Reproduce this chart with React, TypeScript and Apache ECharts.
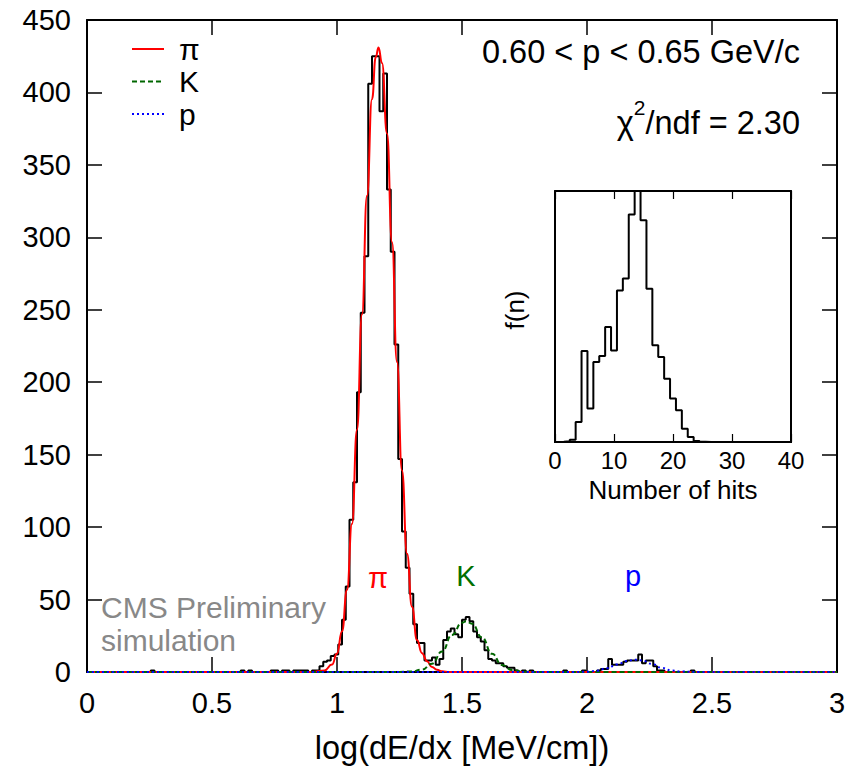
import React, { useEffect, useRef } from 'react';
import * as echarts from 'echarts';

// ---- main histogram: log(dE/dx), 200 bins of width 0.015 from 0 to 3 ----
const BIN_START = 0;
const BIN_WIDTH = 0.015;
const counts000 = [0, 0, 0, 0, 0, 0, 0, 0, 0, 0, 0, 0, 0, 0, 0, 0, 0, 1, 0, 0];
const counts020 = [0, 0, 0, 0, 0, 0, 0, 0, 0, 0, 0, 0, 0, 0, 0, 0, 0, 0, 0, 0];
const counts040 = [0, 1, 0, 1, 0, 0, 0, 0, 0, 1, 1, 0, 1, 1, 0, 1, 1, 1, 1, 0];
const counts060 = [1, 1, 4, 7, 8, 11, 12, 19, 36, 59, 105, 131, 193, 248, 287, 406, 425, 425, 387, 413];
const counts080 = [333, 290, 226, 147, 97, 72, 54, 33, 20, 20, 8, 8, 10, 5, 9, 22, 28, 30, 26, 24];
const counts100 = [36, 38, 35, 28, 24, 21, 15, 9, 8, 6, 6, 4, 3, 3, 1, 0, 1, 0, 1, 0];
const counts120 = [0, 0, 0, 0, 0, 0, 0, 1, 0, 0, 0, 0, 1, 0, 0, 0, 1, 2, 2, 9];
const counts140 = [5, 5, 5, 7, 8, 8, 8, 12, 6, 8, 8, 4, 1, 1, 0, 0, 0, 0, 0, 0];
const counts160 = [0, 1, 0, 0, 0, 0, 0, 0, 0, 0, 0, 0, 0, 0, 0, 0, 0, 0, 0, 0];
const counts180 = [0, 0, 0, 0, 0, 0, 0, 0, 0, 0, 0, 0, 0, 0, 0, 0, 0, 0, 0, 0];
const counts = [
  ...counts000, ...counts020, ...counts040, ...counts060, ...counts080,
  ...counts100, ...counts120, ...counts140, ...counts160, ...counts180,
];

// ---- fitted curves ----
const pionX = [0, 0.85, 0.9, 0.95, 0.98, 1.0, 1.02, 1.04, 1.06, 1.08, 1.1, 1.12, 1.14, 1.155, 1.166, 1.18, 1.2, 1.22, 1.24, 1.26, 1.28, 1.3, 1.32, 1.34, 1.36, 1.38, 1.4, 1.42, 1.45, 3];
const pionY = [0, 0, 0.05, 1.1, 5.1, 12.7, 28.1, 56.6, 102.3, 167.2, 246.8, 328.7, 395.3, 424.4, 431, 420.3, 371.7, 296.8, 213.9, 139.1, 81.7, 45, 22, 13, 7.5, 3.5, 1.5, 0.5, 0, 0];
const kaonX = [0, 1.25, 1.3, 1.34, 1.38, 1.42, 1.46, 1.5, 1.517, 1.54, 1.58, 1.62, 1.66, 1.7, 1.75, 1.8, 3];
const kaonY = [0, 0, 0.4, 1.7, 5.7, 14.1, 25.6, 34.0, 35, 33.3, 23.9, 12.6, 4.9, 1.4, 0.2, 0, 0];
const protonX = [0, 1.95, 2.0, 2.04, 2.08, 2.12, 2.16, 2.19, 2.22, 2.26, 2.3, 2.34, 2.38, 2.45, 3];
const protonY = [0, 0, 0.2, 0.9, 2.6, 5.2, 7.6, 8.5, 8.0, 5.6, 2.8, 1.0, 0.3, 0, 0];

// ---- inset: number of hits, bins centred on integers 0..40 ----
const hitsStart = -0.5;
const hitsWidth = 1;
const hitsValues = [0, 0.1, 0.3, 0.9, 8.0, 36.3, 13.3, 31.9, 34.3, 45.8, 36.5, 60.4, 65.1, 90.6, 110, 88.3, 61.1, 38.5, 33.9, 25.2, 17.3, 12.6, 5.3, 2.0, 0.4, 0.1, 0, 0, 0, 0, 0, 0, 0, 0, 0, 0, 0, 0, 0, 0, 0];

const xTicks = { min: 0, max: 3, interval: 0.5 };
const yTicks = { min: 0, max: 450, interval: 50 };
const insetXTicks = { min: 0, max: 40, interval: 10 };

const FONT = '"Liberation Sans", Arial, Helvetica, sans-serif';

function stepLine(start: number, width: number, values: number[]): number[][] {
  const pts: number[][] = [];
  let prev = 0;
  values.forEach((v, i) => {
    const x = start + i * width;
    pts.push([x, prev], [x, v]);
    prev = v;
  });
  const xEnd = start + values.length * width;
  pts.push([xEnd, prev], [xEnd, 0]);
  return pts;
}

function zip(xs: number[], ys: number[]): number[][] {
  return xs.map((x, i) => [x, ys[i]]);
}

export default function App() {
  const ref = useRef<HTMLDivElement>(null);
  useEffect(() => {
    const chart = echarts.init(ref.current!, null, { renderer: 'svg' });
    const frameLine = { show: true, onZero: false, lineStyle: { color: '#000', width: 2 } };
    const mainTick = { show: true, inside: true, length: 15, lineStyle: { color: '#000', width: 1.5 } };
    const insetTick = { show: true, inside: true, length: 8, lineStyle: { color: '#000', width: 1.2 } };
    chart.setOption({
      animation: false,
      backgroundColor: '#ffffff',
      textStyle: { fontFamily: FONT },
      grid: [
        { left: 87, top: 20, width: 750, height: 652 },
        { left: 555, top: 191, width: 236, height: 251 },
      ],
      legend: {
        data: ['π', 'K', 'p'],
        orient: 'vertical',
        left: 126,
        top: 29,
        itemWidth: 32,
        itemHeight: 12,
        itemGap: 2.5,
        itemStyle: { opacity: 0 },
        textStyle: { fontSize: 30, color: '#000', lineHeight: 30, padding: [0, 0, 0, 10], fontFamily: FONT },
      },
      xAxis: [
        {
          gridIndex: 0, type: 'value', ...xTicks, position: 'bottom',
          axisLine: frameLine, axisTick: mainTick, splitLine: { show: false },
          axisLabel: { color: '#000', fontSize: 29, margin: 16, fontFamily: FONT },
          name: 'log(dE/dx [MeV/cm])', nameLocation: 'middle', nameGap: 59,
          nameTextStyle: { fontSize: 32.5, color: '#000', fontFamily: FONT },
        },
        {
          gridIndex: 0, type: 'value', ...xTicks, position: 'top',
          axisLine: frameLine, axisTick: mainTick, splitLine: { show: false }, axisLabel: { show: false },
        },
        {
          gridIndex: 1, type: 'value', ...insetXTicks, position: 'bottom',
          axisLine: frameLine, axisTick: insetTick, splitLine: { show: false },
          axisLabel: { color: '#000', fontSize: 24, margin: 6, fontFamily: FONT },
          name: 'Number of hits', nameLocation: 'middle', nameGap: 35,
          nameTextStyle: { fontSize: 26, color: '#000', fontFamily: FONT },
        },
        {
          gridIndex: 1, type: 'value', ...insetXTicks, position: 'top',
          axisLine: frameLine, axisTick: insetTick, splitLine: { show: false }, axisLabel: { show: false },
        },
      ],
      yAxis: [
        {
          gridIndex: 0, type: 'value', ...yTicks, position: 'left',
          axisLine: frameLine, axisTick: mainTick, splitLine: { show: false },
          axisLabel: { color: '#000', fontSize: 29, margin: 16, fontFamily: FONT },
        },
        {
          gridIndex: 0, type: 'value', ...yTicks, position: 'right',
          axisLine: frameLine, axisTick: mainTick, splitLine: { show: false }, axisLabel: { show: false },
        },
        {
          gridIndex: 1, type: 'value', min: 0, max: 100, position: 'left',
          axisLine: frameLine, axisTick: { show: false }, splitLine: { show: false }, axisLabel: { show: false },
        },
        {
          gridIndex: 1, type: 'value', min: 0, max: 100, position: 'right',
          axisLine: frameLine, axisTick: { show: false }, splitLine: { show: false }, axisLabel: { show: false },
        },
      ],
      series: [
        {
          name: 'data', type: 'line', xAxisIndex: 0, yAxisIndex: 0,
          data: stepLine(BIN_START, BIN_WIDTH, counts), symbol: 'none',
          lineStyle: { color: '#000', width: 2 }, itemStyle: { color: '#000' }, z: 2,
        },
        {
          name: 'π', type: 'line', xAxisIndex: 0, yAxisIndex: 0,
          data: zip(pionX, pionY), symbol: 'none', smooth: true, smoothMonotone: 'x',
          lineStyle: { color: '#ff0000', width: 2 }, itemStyle: { color: '#ff0000' }, z: 3,
        },
        {
          name: 'K', type: 'line', xAxisIndex: 0, yAxisIndex: 0,
          data: zip(kaonX, kaonY), symbol: 'none', smooth: true, smoothMonotone: 'x',
          lineStyle: { color: '#006600', width: 2, type: [5, 3] }, itemStyle: { color: '#006600' }, z: 3,
        },
        {
          name: 'p', type: 'line', xAxisIndex: 0, yAxisIndex: 0,
          data: zip(protonX, protonY), symbol: 'none', smooth: true, smoothMonotone: 'x',
          lineStyle: { color: '#0000ff', width: 2, type: [2, 3] }, itemStyle: { color: '#0000ff' }, z: 3,
        },
        {
          name: 'hits', type: 'line', xAxisIndex: 2, yAxisIndex: 2,
          data: stepLine(hitsStart, hitsWidth, hitsValues), symbol: 'none', clip: true,
          lineStyle: { color: '#000', width: 2 }, itemStyle: { color: '#000' },
        },
      ],
      graphic: [
        {
          type: 'text', right: 852 - 800, top: 35,
          style: { text: '0.60 < p < 0.65 GeV/c', fontSize: 32.5, fill: '#000', fontFamily: FONT },
        },
        {
          type: 'text', right: 852 - 800, top: 97,
          style: {
            text: '{a|χ}{s|2}{a|/ndf = 2.30}', fill: '#000', fontFamily: FONT,
            rich: {
              a: { fontSize: 32.5, fontFamily: FONT, fill: '#000', lineHeight: 42, verticalAlign: 'bottom' },
              s: { fontSize: 21, fontFamily: FONT, fill: '#000', lineHeight: 42, verticalAlign: 'top' },
            },
          },
        },
        {
          type: 'text', x: 378, y: 578,
          style: { text: 'π', fontSize: 29, fill: '#ff0000', align: 'center', verticalAlign: 'middle', fontFamily: FONT },
        },
        {
          type: 'text', x: 466, y: 576,
          style: { text: 'K', fontSize: 29, fill: '#007000', align: 'center', verticalAlign: 'middle', fontFamily: FONT },
        },
        {
          type: 'text', x: 633, y: 576,
          style: { text: 'p', fontSize: 29, fill: '#0000ff', align: 'center', verticalAlign: 'middle', fontFamily: FONT },
        },
        {
          type: 'text', x: 101, y: 607,
          style: { text: 'CMS Preliminary', fontSize: 30, fill: '#888888', align: 'left', verticalAlign: 'middle', fontFamily: FONT },
        },
        {
          type: 'text', x: 101, y: 640,
          style: { text: 'simulation', fontSize: 30, fill: '#888888', align: 'left', verticalAlign: 'middle', fontFamily: FONT },
        },
        {
          type: 'text', x: 515, y: 310, rotation: Math.PI / 2,
          style: { text: 'f(n)', fontSize: 26, fill: '#000', align: 'center', verticalAlign: 'middle', fontFamily: FONT },
        },
      ],
    });
    return () => chart.dispose();
  }, []);
  return <div ref={ref} style={{ position: 'fixed', left: 0, top: 0, width: 852, height: 771 }} />;
}
